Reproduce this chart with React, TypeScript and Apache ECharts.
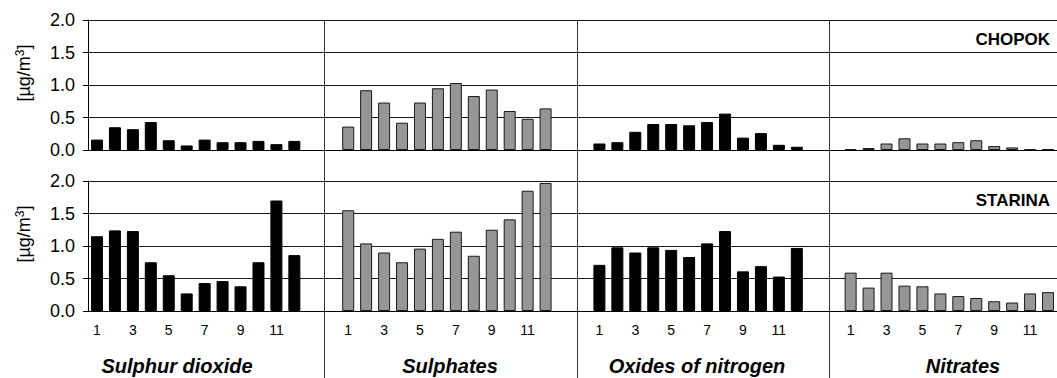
import React, { useEffect, useRef } from "react";
import * as echarts from "echarts";

// ---- data (µg/m3, months 1..12) ----
const months = ["1", "2", "3", "4", "5", "6", "7", "8", "9", "10", "11", "12"];
const panelTitles = ["Sulphur dioxide", "Sulphates", "Oxides of nitrogen", "Nitrates"];
const stations = ["CHOPOK", "STARINA"];

const chopokSO2 = [0.16, 0.35, 0.32, 0.43, 0.15, 0.07, 0.16, 0.12, 0.12, 0.14, 0.09, 0.14];
const chopokSO4 = [0.36, 0.92, 0.73, 0.42, 0.73, 0.95, 1.03, 0.83, 0.93, 0.6, 0.48, 0.64];
const chopokNOx = [0.1, 0.12, 0.28, 0.4, 0.4, 0.38, 0.43, 0.56, 0.19, 0.26, 0.08, 0.05];
const chopokNO3 = [0.015, 0.03, 0.1, 0.18, 0.1, 0.1, 0.12, 0.15, 0.06, 0.04, 0.01, 0.015];

const starinaSO2 = [1.15, 1.24, 1.23, 0.75, 0.55, 0.27, 0.43, 0.46, 0.38, 0.75, 1.7, 0.86];
const starinaSO4 = [1.55, 1.04, 0.9, 0.75, 0.96, 1.11, 1.22, 0.85, 1.25, 1.41, 1.85, 1.97];
const starinaNOx = [0.71, 0.98, 0.9, 0.98, 0.94, 0.83, 1.04, 1.23, 0.61, 0.69, 0.53, 0.97];
const starinaNO3 = [0.59, 0.36, 0.59, 0.39, 0.38, 0.27, 0.23, 0.2, 0.15, 0.13, 0.27, 0.29];

const yTicks = [0, 0.5, 1.0, 1.5, 2.0];

// ---- layout ----
const W = 1057;
const H = 378;
const SLOTS_PER_PANEL = 14; // 12 months + 2 blank slots
const N_SLOTS = 54;
const SLOT_W = 18.12;
const GRID_LEFT = 88;
const GRID_W = N_SLOTS * SLOT_W;
const GRIDS = [
  { top: 20, height: 130 },
  { top: 181, height: 130 },
];
const FONT = "'Liberation Sans', Arial, Helvetica, sans-serif";
const BLACK = "#000000";
const GREY = "#969696";
const panelColors = [BLACK, GREY, BLACK, GREY];
const titleX = [177, 450, 697, 963];
const dividerX = [324.5, 577.5, 829.5];

const rows = [
  [chopokSO2, chopokSO4, chopokNOx, chopokNO3],
  [starinaSO2, starinaSO4, starinaNOx, starinaNO3],
];

// slot keys and tick labels along the continuous category axis
const slotKeys: string[] = [];
const xTickLabels: string[] = [];
for (let s = 0; s < N_SLOTS; s++) {
  slotKeys.push("s" + s);
  const m = s % SLOTS_PER_PANEL;
  xTickLabels.push(m < 12 ? months[m] : "");
}

export default function App() {
  const ref = useRef<HTMLDivElement>(null);

  useEffect(() => {
    if (!ref.current) return;
    const chart = echarts.init(ref.current, null, { renderer: "svg" });

    const grid = GRIDS.map((g) => ({
      left: GRID_LEFT,
      top: g.top,
      width: GRID_W,
      height: g.height,
      containLabel: false,
    }));

    const xAxis = GRIDS.map((_, gi) => ({
      type: "category",
      gridIndex: gi,
      data: slotKeys,
      boundaryGap: true,
      axisLine: { show: true, lineStyle: { color: BLACK, width: 1 } },
      axisTick: { show: false },
      splitLine: { show: false },
      axisLabel: {
        show: gi === 1,
        interval: 1,
        margin: 12,
        fontFamily: FONT,
        fontSize: 14,
        color: BLACK,
        formatter: (_v: string, idx: number) => xTickLabels[idx],
      },
    }));

    const yAxis = GRIDS.map((_, gi) => ({
      type: "value",
      gridIndex: gi,
      min: yTicks[0],
      max: yTicks[yTicks.length - 1],
      interval: 0.5,
      axisLine: { show: true, lineStyle: { color: BLACK, width: 1 } },
      axisTick: { show: true, inside: false, length: 5, lineStyle: { color: BLACK } },
      splitLine: { show: true, lineStyle: { color: "#1a1a1a", width: 1 } },
      axisLabel: {
        margin: 13,
        fontFamily: FONT,
        fontSize: 18,
        color: BLACK,
        formatter: (v: number) => v.toFixed(1),
      },
    }));

    const series: any[] = [];
    rows.forEach((rowData, gi) => {
      rowData.forEach((vals, p) => {
        const data: (number | string)[] = new Array(N_SLOTS).fill("-");
        vals.forEach((v, i) => {
          data[p * SLOTS_PER_PANEL + i] = v;
        });
        series.push({
          type: "bar",
          name: stations[gi] + " " + panelTitles[p],
          xAxisIndex: gi,
          yAxisIndex: gi,
          data,
          barWidth: 12,
          barGap: "-100%",
          itemStyle: {
            color: panelColors[p],
            borderColor: panelColors[p] === BLACK ? BLACK : "#1a1a1a",
            borderWidth: 1,
          },
          emphasis: { disabled: true },
        });
      });
    });

    const graphic: any[] = [];
    // panel dividers
    dividerX.forEach((x) => {
      graphic.push({
        type: "line",
        shape: { x1: x, y1: GRIDS[0].top, x2: x, y2: H },
        style: { stroke: "#333333", lineWidth: 1 },
        silent: true,
      });
    });
    // station labels
    stations.forEach((s, gi) => {
      graphic.push({
        type: "text",
        x: 1050,
        y: GRIDS[gi].top + 19,
        style: {
          text: s,
          align: "right",
          verticalAlign: "middle",
          fontFamily: FONT,
          fontSize: 17,
          fontWeight: "bold",
          fill: BLACK,
        },
        silent: true,
      });
    });
    // panel titles
    panelTitles.forEach((t, p) => {
      graphic.push({
        type: "text",
        x: titleX[p],
        y: 366,
        style: {
          text: t,
          align: "center",
          verticalAlign: "middle",
          fontFamily: FONT,
          fontSize: 20,
          fontWeight: "bold",
          fontStyle: "italic",
          fill: BLACK,
        },
        silent: true,
      });
    });
    // y axis names
    GRIDS.forEach((g) => {
      graphic.push({
        type: "text",
        x: 24,
        y: g.top + 53,
        rotation: Math.PI / 2,
        style: {
          text: "[µg/m{sup|3}]",
          align: "center",
          verticalAlign: "middle",
          fontFamily: FONT,
          fontSize: 18,
          fill: BLACK,
          rich: {
            sup: { fontSize: 12, verticalAlign: "top", fontFamily: FONT, fill: BLACK, padding: [0, 0, 8, 0] },
          },
        },
        silent: true,
      });
    });

    chart.setOption({
      animation: false,
      backgroundColor: "#ffffff",
      grid,
      xAxis,
      yAxis,
      series,
      graphic,
    });

    return () => chart.dispose();
  }, []);

  return (
    <div
      ref={ref}
      style={{ position: "absolute", left: 0, top: 0, width: W, height: H }}
    />
  );
}
